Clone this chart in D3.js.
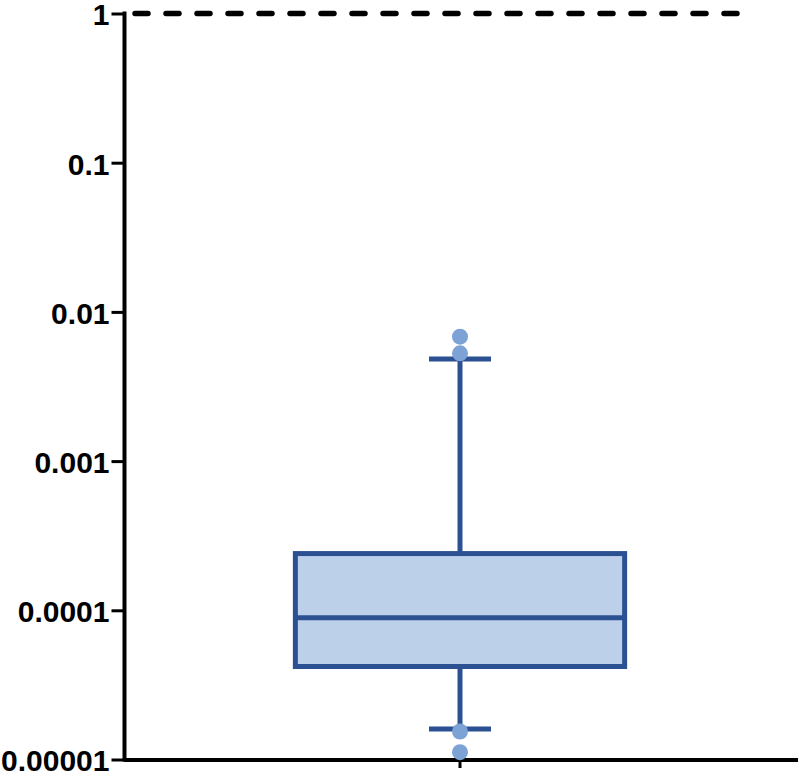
<!DOCTYPE html>
<html>
<head>
<meta charset="utf-8">
<script src="https://cdn.jsdelivr.net/npm/d3@7"></script>
<style>
  html, body { margin: 0; padding: 0; background: #fff; }
  svg { display: block; }
</style>
</head>
<body>
<svg id="chart" width="800" height="774"></svg>
<script>
// ---- data ----
const categories = ["Group"];
const q1 = [4.20e-5];
const median = [8.92e-5];
const q3 = [2.40e-4];
const whiskerLow = [1.60e-5];
const whiskerHigh = [4.83e-3];
const outliers = [[6.82e-3, 5.28e-3, 1.54e-5, 1.12e-5]];
const referenceLine = [1];
const yTickValues = [1, 0.1, 0.01, 0.001, 0.0001, 0.00001];
const yTickLabels = ["1", "0.1", "0.01", "0.001", "0.0001", "0.00001"];

// ---- layout ----
const svg = d3.select("#chart");
const axisColor = "#000";
const boxStroke = "#2b5193";
const boxFill = "#bdd0ea";
const dotFill = "#7da2d6";

const y = d3.scaleLog().domain([1e-5, 1]).range([759.5, 13.5]);
const x = d3.scaleBand().domain(categories).range([124, 796]);

// reference dashed line
svg.selectAll("line.ref").data(referenceLine).enter().append("line")
  .attr("class", "ref")
  .attr("x1", 135).attr("x2", 745)
  .attr("y1", d => y(d)).attr("y2", d => y(d))
  .attr("stroke", "#000").attr("stroke-width", 5.5)
  .attr("stroke-linecap", "round")
  .attr("stroke-dasharray", "13,18");

// Y axis
const yAxis = d3.axisLeft(y)
  .tickValues(yTickValues)
  .tickFormat((d, i) => yTickLabels[i])
  .tickSize(13)
  .tickSizeOuter(0)
  .tickPadding(2);
const gy = svg.append("g").attr("transform", "translate(124.5,0)").call(yAxis);
gy.select(".domain").attr("stroke", axisColor).attr("stroke-width", 4)
  .attr("d", `M0,${y(1) - 2}V${y(1e-5) + 2}`);
gy.selectAll(".tick line").attr("stroke", axisColor).attr("stroke-width", 3);
gy.selectAll(".tick text")
  .attr("fill", "#000")
  .attr("dy", "0.38em")
  .style("font-family", "'Liberation Sans', Arial, sans-serif")
  .style("font-weight", "bold")
  .style("font-size", "30px");

// X axis
const xAxis = d3.axisBottom(x).tickSize(8).tickSizeOuter(0).tickFormat("");
const gx = svg.append("g").attr("transform", "translate(0,760)").call(xAxis);
gx.select(".domain").attr("stroke", axisColor).attr("stroke-width", 4)
  .attr("d", "M124,0H798");
gx.selectAll(".tick line").attr("stroke", axisColor).attr("stroke-width", 3);

// Box plot
const boxRatio = 0.49;
const capWidth = 62;
const data = categories.map((c, i) => ({
  c, q1: q1[i], med: median[i], q3: q3[i], lo: whiskerLow[i], hi: whiskerHigh[i], out: outliers[i]
}));
const g = svg.append("g");
data.forEach(d => {
  const cx = x(d.c) + x.bandwidth() / 2;
  const bw = x.bandwidth() * boxRatio;
  // whiskers
  g.append("line").attr("x1", cx).attr("x2", cx)
    .attr("y1", y(d.q3)).attr("y2", y(d.hi))
    .attr("stroke", boxStroke).attr("stroke-width", 5);
  g.append("line").attr("x1", cx).attr("x2", cx)
    .attr("y1", y(d.q1)).attr("y2", y(d.lo))
    .attr("stroke", boxStroke).attr("stroke-width", 5);
  [d.hi, d.lo].forEach(v => {
    g.append("line").attr("x1", cx - capWidth / 2).attr("x2", cx + capWidth / 2)
      .attr("y1", y(v)).attr("y2", y(v))
      .attr("stroke", boxStroke).attr("stroke-width", 5);
  });
  // box
  g.append("rect")
    .attr("x", cx - bw / 2).attr("width", bw)
    .attr("y", y(d.q3)).attr("height", y(d.q1) - y(d.q3))
    .attr("fill", boxFill).attr("stroke", boxStroke).attr("stroke-width", 5);
  g.append("line").attr("x1", cx - bw / 2).attr("x2", cx + bw / 2)
    .attr("y1", y(d.med)).attr("y2", y(d.med))
    .attr("stroke", boxStroke).attr("stroke-width", 5);
  // outliers
  g.selectAll(null).data(d.out).enter().append("circle")
    .attr("cx", cx).attr("cy", v => y(v)).attr("r", 8)
    .attr("fill", dotFill);
});
</script>
</body>
</html>
